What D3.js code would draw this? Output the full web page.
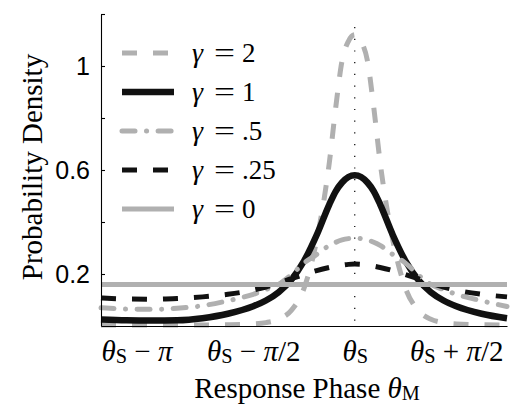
<!DOCTYPE html>
<html>
<head>
<meta charset="utf-8">
<script src="https://cdn.jsdelivr.net/npm/d3@7"></script>
<style>
  body { margin: 0; background: #fff; }
  svg { display: block; }
  text { white-space: pre; }
</style>
</head>
<body>
<div id="chart"></div>
<script>

// Response phase, measured from theta_S, in units of pi
const phase = [-1.25, -1.125, -1, -0.875, -0.75, -0.625, -0.5, -0.4375, -0.375, -0.3125, -0.25, -0.1875, -0.125, -0.09375, -0.0625, -0.03125,
               0, 0.03125, 0.0625, 0.09375, 0.125, 0.1875, 0.25, 0.3125, 0.375, 0.4375, 0.5, 0.625, 0.75];

// probability density, one array per gamma
const gamma2   = [0.004, 0.004, 0.004, 0.004, 0.004, 0.005, 0.008, 0.013, 0.026, 0.06, 0.145, 0.33, 0.63, 0.84, 1.02, 1.095,
                  1.12, 1.095, 1.02, 0.84, 0.63, 0.33, 0.145, 0.06, 0.026, 0.013, 0.008, 0.005, 0.004];
const gamma1   = [0.025, 0.022, 0.021, 0.022, 0.03, 0.047, 0.076, 0.098, 0.13, 0.178, 0.25, 0.35, 0.468, 0.518, 0.552, 0.573,
                  0.58, 0.573, 0.552, 0.518, 0.468, 0.35, 0.25, 0.178, 0.13, 0.098, 0.076, 0.047, 0.03];
const gamma05  = [0.07, 0.065, 0.064, 0.068, 0.078, 0.097, 0.122, 0.14, 0.16, 0.197, 0.242, 0.275, 0.31, 0.322, 0.331, 0.336,
                  0.338, 0.336, 0.331, 0.322, 0.31, 0.275, 0.242, 0.197, 0.16, 0.14, 0.122, 0.097, 0.075];
const gamma025 = [0.108, 0.104, 0.103, 0.106, 0.112, 0.122, 0.138, 0.15, 0.165, 0.182, 0.198, 0.213, 0.225, 0.23, 0.234, 0.237,
                  0.238, 0.237, 0.234, 0.23, 0.225, 0.213, 0.198, 0.182, 0.165, 0.15, 0.138, 0.122, 0.112];
const gamma0   = [0.16, 0.16, 0.16, 0.16, 0.16, 0.16, 0.16, 0.16, 0.16, 0.16, 0.16, 0.16, 0.16, 0.16, 0.16, 0.16,
                  0.16, 0.16, 0.16, 0.16, 0.16, 0.16, 0.16, 0.16, 0.16, 0.16, 0.16, 0.16, 0.16];

const legendLabels = ["2", "1", ".5", ".25", "0"];
const yTicks = [0.2, 0.4, 0.6, 0.8, 1, 1.2];
const yTickLabels = ["0.2", "", "0.6", "", "1", ""];
const xTicks = [-1, -0.5, 0, 0.5];
const xTickLabels = ["θ_S − π", "θ_S − π/2", "θ_S", "θ_S + π/2"];

// size of the page and the plot box
const width = 513;
const height = 405;
const margin = {left: 101, right: 6, top: 14, bottom: 79};
const serif = "'Liberation Serif', 'Times New Roman', 'DejaVu Serif', serif";

const gray = "#b0b0b0";
const black = "#111";
const styles = [
  {color: gray,  width: 5,   dash: "15,16",            cap: "butt"},
  {color: black, width: 6.5, dash: null,               cap: "butt"},
  {color: gray,  width: 5,   dash: "13,11.5,0.1,11.5", cap: "round"},
  {color: black, width: 5,   dash: "15,16",            cap: "butt"},
  {color: gray,  width: 5,   dash: null,               cap: "butt"}
];

const series = [gamma2, gamma1, gamma05, gamma025, gamma0];

const svg = d3.select("#chart")
  .append("svg")
  .attr("width", width)
  .attr("height", height);

const xScale = d3.scaleLinear()
  .domain([-1.25, 0.75])
  .range([margin.left, width - margin.right]);

const yScale = d3.scaleLinear()
  .domain([0, 1.2])
  .range([height - margin.bottom, margin.top]);

// writes a label like "θ_S − π/2": greek letters in italic, "_X" as a small subscript
function mathText(text, str) {
  const parts = str.match(/_.|[θπγ]|[^_θπγ]+/g);
  let lowered = false;
  parts.forEach(p => {
    const t = text.append("tspan").attr("font-family", serif);
    if (p[0] === "_") {
      t.text(p[1]).attr("font-size", "0.7em").attr("dy", 2);
      lowered = true;
      return;
    }
    t.text(p);
    if (lowered) { t.attr("dy", -2); lowered = false; }
    if (/[θπγ]/.test(p)) t.attr("font-style", "italic");
  });
}

/*
  Curves
*/
const line = d3.line()
  .x((d, i) => xScale(phase[i]))
  .y(d => yScale(d))
  .curve(d3.curveMonotoneX);

// dotted marker at theta_S
svg.append("line")
  .attr("x1", xScale(0)).attr("x2", xScale(0))
  .attr("y1", yScale(1.15)).attr("y2", yScale(0))
  .attr("stroke", "#000")
  .attr("stroke-width", 1.2)
  .attr("stroke-dasharray", "1.2,10.5");

series.forEach((s, k) => {
  svg.append("path")
    .datum(s)
    .attr("d", line)
    .attr("fill", "none")
    .attr("stroke", styles[k].color)
    .attr("stroke-width", styles[k].width)
    .attr("stroke-linecap", styles[k].cap)
    .attr("stroke-dasharray", styles[k].dash);
});

/*
  Axes
*/
const yAxis = svg.append("g")
  .attr("transform", `translate(${margin.left},0)`)
  .call(d3.axisLeft(yScale)
    .tickValues(yTicks)
    .tickSize(-4)
    .tickSizeOuter(0)
    .tickPadding(11)
    .tickFormat((d, i) => yTickLabels[i]));
yAxis.selectAll("text")
  .attr("font-family", "'Liberation Sans', Arial, sans-serif")
  .attr("font-size", 25)
  .attr("fill", "#000");
yAxis.selectAll("line, path").attr("stroke", "#000").attr("stroke-width", 1.1);

const xAxis = svg.append("g")
  .attr("transform", `translate(0,${height - margin.bottom})`)
  .call(d3.axisBottom(xScale)
    .tickValues(xTicks)
    .tickSize(0)
    .tickSizeOuter(0)
    .tickFormat(""));
xAxis.select("path").attr("stroke", "#000").attr("stroke-width", 1.1);
xAxis.selectAll(".tick text").remove();
xAxis.selectAll(".tick").each(function(d, i) {
  const t = d3.select(this).append("text")
    .attr("y", 35)
    .attr("fill", "#000")
    .attr("font-family", serif)
    .attr("font-size", 29)
    .attr("text-anchor", "middle");
  // first label sits against the left end of the axis
  if (i === 0) t.attr("text-anchor", "start").attr("x", margin.left - xScale(d));
  mathText(t, xTickLabels[i]);
});

// axis titles
const xTitle = svg.append("text")
  .attr("x", 307)
  .attr("y", 398)
  .attr("text-anchor", "middle")
  .attr("font-family", serif)
  .attr("font-size", 29);
mathText(xTitle, "Response Phase θ_M");

svg.append("text")
  .attr("transform", "translate(42,167) rotate(-90)")
  .attr("text-anchor", "middle")
  .attr("font-family", serif)
  .attr("font-size", 29)
  .text("Probability Density");

/*
  Legend
*/
const legendY = d3.scalePoint()
  .domain(legendLabels)
  .range([53, 209]);

legendLabels.forEach((lab, k) => {
  const y = legendY(lab);
  svg.append("line")
    .attr("x1", 122).attr("x2", 174)
    .attr("y1", y).attr("y2", y)
    .attr("stroke", styles[k].color)
    .attr("stroke-width", styles[k].width)
    .attr("stroke-linecap", styles[k].cap)
    .attr("stroke-dasharray", styles[k].dash);
  svg.append("text").attr("x", 192).attr("y", y + 9)
    .attr("font-family", serif).attr("font-size", 28)
    .attr("font-style", "italic").text("γ");
  svg.append("text").attr("x", 214).attr("y", y + 9)
    .attr("font-family", serif).attr("font-size", 28)
    .attr("textLength", 21).attr("lengthAdjust", "spacingAndGlyphs")
    .text("=");
  svg.append("text").attr("x", 242).attr("y", y + 9)
    .attr("font-family", serif).attr("font-size", 27)
    .text(lab);
});

</script>
</body>
</html>
